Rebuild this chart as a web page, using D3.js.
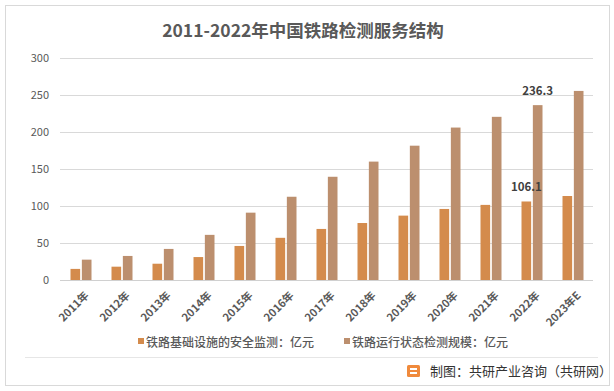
<!DOCTYPE html>
<html>
<head>
<meta charset="utf-8">
<script src="https://cdn.jsdelivr.net/npm/d3@7"></script>
<style>
  body { margin: 0; background: #fff; }
  svg text { font-family: "Noto Sans CJK SC", "Microsoft YaHei", sans-serif; }
</style>
</head>
<body>
<div id="chart"></div>
<script>
const years = ['2011年', '2012年', '2013年', '2014年', '2015年', '2016年', '2017年',
    '2018年', '2019年', '2020年', '2021年', '2022年', '2023年E'];
const seriesNames = ['铁路基础设施的安全监测：亿元', '铁路运行状态检测规模：亿元'];
const safetyValues = [15, 18, 22, 31, 46, 57, 69, 77, 87, 96, 101.5, 106.1, 113.5];
const statusValues = [27.5, 32.5, 42, 61, 91, 112.5, 139.5, 160, 181.5, 206, 220.5, 236.3, 255.5];
const yTicks = [0, 50, 100, 150, 200, 250, 300];
const colors = ['#D48B4C', '#BC8F6E'];
// only 2022 values are labelled in the source
const labelled = { '2022年': true };

const width = 614, height = 391;
const margin = { top: 58, right: 21, bottom: 111, left: 60 };

const svg = d3.select('#chart').append('svg')
    .attr('width', width)
    .attr('height', height);

// outer frame + footer separator
svg.append('rect')
    .attr('x', 5.5).attr('y', 5.5)
    .attr('width', 604).attr('height', 380)
    .attr('fill', '#fff')
    .attr('stroke', '#d9d9d9');
svg.append('line')
    .attr('x1', 25).attr('x2', 598)
    .attr('y1', 357.5).attr('y2', 357.5)
    .attr('stroke', '#e6e6e6');

svg.append('text')
    .attr('x', 303).attr('y', 37)
    .attr('text-anchor', 'middle')
    .attr('font-size', 17.5)
    .attr('font-weight', 'bold')
    .attr('fill', '#595959')
    .text('2011-2022年中国铁路检测服务结构');

const w = width - margin.left - margin.right;
const h = height - margin.top - margin.bottom;

const chartArea = svg.append('g')
    .attr('transform', `translate(${margin.left}, ${margin.top})`);

const x0 = d3.scaleBand().domain(years).range([0, w]);
const x1 = d3.scaleBand().domain([0, 1]).range([0, 21]).paddingInner(0.15);
const y = d3.scaleLinear().domain([0, 300]).range([h, 0]);

// gridlines
chartArea.append('g')
    .selectAll('line')
    .data(yTicks)
    .enter().append('line')
    .attr('x1', 0).attr('x2', w)
    .attr('y1', d => Math.round(y(d)) + 0.5)
    .attr('y2', d => Math.round(y(d)) + 0.5)
    .attr('stroke', '#d9d9d9')
    .attr('stroke-width', 1.2);

// y axis labels
const yAxis = chartArea.append('g')
    .call(d3.axisLeft(y).tickValues(yTicks).tickSize(0).tickPadding(11));
yAxis.select('.domain').remove();
yAxis.selectAll('text')
    .attr('font-size', 11)
    .attr('fill', '#595959')
    .style('font-family', '"Noto Sans CJK SC", sans-serif');

// x axis labels
const xAxis = chartArea.append('g')
    .attr('transform', `translate(0, ${h})`)
    .call(d3.axisBottom(x0).tickSize(0));
xAxis.select('.domain').remove();
xAxis.selectAll('text')
    .attr('font-size', 11)
    .attr('font-weight', 'bold')
    .attr('fill', '#595959')
    .attr('text-anchor', 'end')
    .attr('dy', 0)
    .attr('transform', 'translate(7, 14) rotate(-45)')
    .style('font-family', '"Noto Sans CJK SC", sans-serif');

const table = years.map((yr, i) => ({ year: yr, values: [safetyValues[i], statusValues[i]] }));

const groups = chartArea.selectAll('.grp')
    .data(table)
    .enter().append('g')
    .attr('class', 'grp')
    .attr('transform', d => `translate(${x0(d.year) + 10.5}, 0)`);

groups.selectAll('rect')
    .data(d => d.values.map((v, k) => ({ k, v, year: d.year })))
    .enter().append('rect')
    .attr('x', d => x1(d.k))
    .attr('width', x1.bandwidth())
    .attr('y', d => y(d.v))
    .attr('height', d => h - y(d.v))
    .attr('fill', d => colors[d.k]);

groups.selectAll('.lbl')
    .data(d => labelled[d.year] ? d.values.map((v, k) => ({ k, v })) : [])
    .enter().append('text')
    .attr('class', 'lbl')
    .attr('x', d => x1(d.k) + x1.bandwidth() / 2)
    .attr('y', d => y(d.v) - 10)
    .attr('text-anchor', 'middle')
    .attr('font-size', 11.5)
    .attr('font-weight', 'bold')
    .attr('fill', '#404040')
    .text(d => d.v);

// baseline
chartArea.append('line')
    .attr('x1', 0).attr('x2', w)
    .attr('y1', h + 0.5).attr('y2', h + 0.5)
    .attr('stroke', '#d0d0d0')
    .attr('stroke-width', 1.2);

// legend
const legendX = [138, 344];
const legend = svg.append('g').selectAll('g')
    .data(seriesNames)
    .enter().append('g')
    .attr('transform', (d, i) => `translate(${legendX[i]}, 343)`);
legend.append('rect')
    .attr('x', 0).attr('y', -5)
    .attr('width', 6).attr('height', 6)
    .attr('fill', (d, i) => colors[i]);
legend.append('text')
    .attr('x', 8).attr('y', 4)
    .attr('font-size', 12)
    .attr('font-weight', 500)
    .attr('fill', '#595959')
    .text(d => d);

// footer with logo
const logo = svg.append('g').attr('transform', 'translate(407, 365)');
logo.append('rect')
    .attr('width', 13).attr('height', 12).attr('rx', 1.5)
    .attr('fill', '#F08A3C');
logo.append('rect')
    .attr('x', 3).attr('y', 3).attr('width', 7).attr('height', 2)
    .attr('fill', '#fff');
logo.append('rect')
    .attr('x', 3).attr('y', 7).attr('width', 7).attr('height', 2)
    .attr('fill', '#fff');
svg.append('text')
    .attr('x', 430).attr('y', 376)
    .attr('font-size', 13)
    .attr('fill', '#333')
    .text('制图：共研产业咨询（共研网）');
</script>
</body>
</html>
